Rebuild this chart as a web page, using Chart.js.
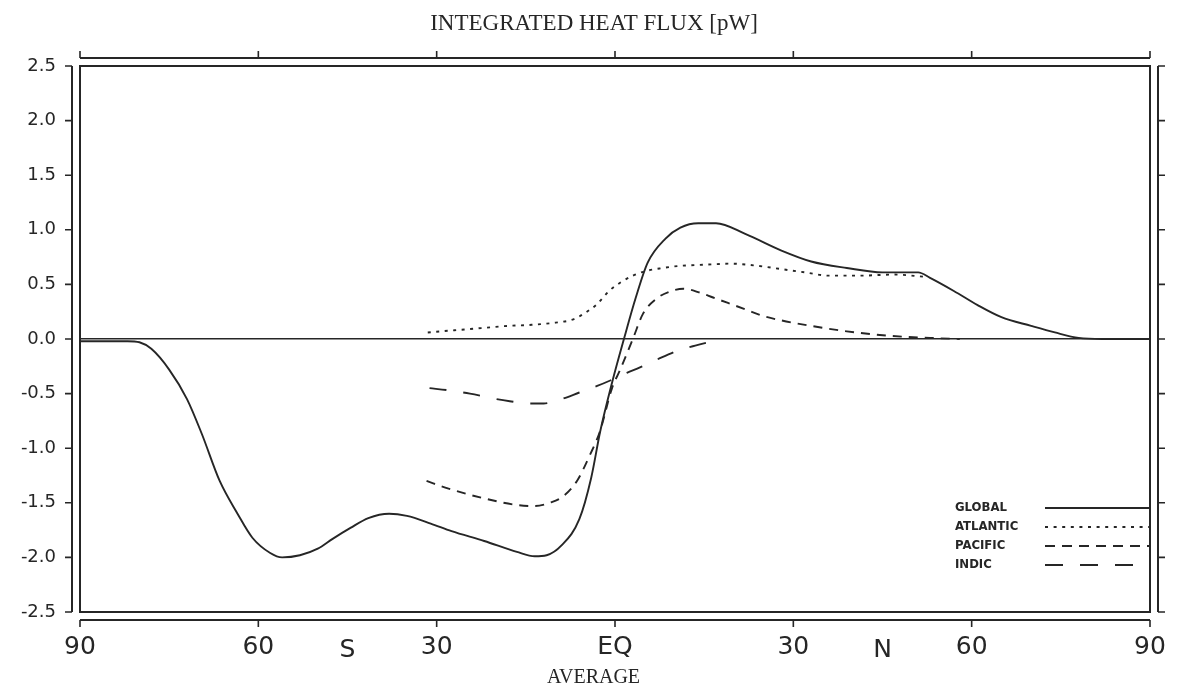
<!DOCTYPE html>
<html><head><meta charset="utf-8">
<script src="https://cdn.jsdelivr.net/npm/chart.js@4.4.1/dist/chart.umd.min.js"></script>
<style>html,body{margin:0;padding:0;background:#fff;}#wrap{width:1188px;height:698px;}</style>
</head><body><div id="wrap"><canvas id="c" width="1188" height="698"></canvas></div>
<script>
// ---- data ----
const xTicks = [-90, -60, -30, 0, 30, 60, 90];
const xTickLabels = ['90', '60', '30', 'EQ', '30', '60', '90'];
const hemiLat = [-45, 45];
const hemiLabels = ['S', 'N'];
const titleText = 'INTEGRATED HEAT FLUX [pW]';
const xTitle = 'AVERAGE';
const seriesNames = ['GLOBAL', 'ATLANTIC', 'PACIFIC', 'INDIC'];

const globalLat = [-90,-85,-82,-80,-78,-75,-72,-69.5,-66.5,-63.5,-61,-58,-56,-53,-50,-47.5,-44.5,-41.5,-38,-35,-31,-27.5,-22,-16.5,-13.5,-11.5,-9,-6,-4,-2.5,-0.5,1.5,3.5,5.5,8.5,11,14,17,22,28,33,39,45,51,53,57,61,65,70,74,78,82,90];
const globalVal = [-0.02,-0.02,-0.02,-0.03,-0.09,-0.28,-0.55,-0.87,-1.30,-1.60,-1.82,-1.96,-2.0,-1.98,-1.92,-1.83,-1.73,-1.64,-1.60,-1.62,-1.69,-1.76,-1.85,-1.95,-1.99,-1.98,-1.89,-1.65,-1.27,-0.85,-0.40,0.0,0.38,0.70,0.92,1.02,1.06,1.06,0.96,0.81,0.71,0.65,0.61,0.61,0.56,0.44,0.31,0.20,0.12,0.06,0.01,0.0,0.0];

const atlanticLat = [-31.5,-27,-22.5,-18,-14,-10,-7,-5,-3,-1,1,3,5,8,11,15,19.5,24,28,32,36,41,47,52];
const atlanticVal = [0.06,0.08,0.10,0.12,0.13,0.15,0.18,0.24,0.32,0.44,0.52,0.58,0.62,0.65,0.67,0.68,0.69,0.67,0.64,0.61,0.58,0.58,0.59,0.57];

const pacificLat = [-31.7,-28,-22,-16.5,-13.5,-11,-8.7,-6.4,-4.2,-2.5,-0.5,0.8,3,4.7,7,9,11.5,14,16.5,19,22,25,28,33,39,46,53,58];
const pacificVal = [-1.30,-1.37,-1.46,-1.52,-1.53,-1.50,-1.44,-1.30,-1.06,-0.84,-0.45,-0.29,0.0,0.23,0.37,0.43,0.46,0.43,0.38,0.33,0.27,0.21,0.17,0.12,0.07,0.03,0.01,0.0];

const indicLat = [-31.2,-28,-24.4,-20,-17.7,-14.5,-12,-9,-6,-3,-0.8,2,4.2,7,10.4,13.5,16.5,18];
const indicVal = [-0.45,-0.47,-0.50,-0.55,-0.57,-0.59,-0.59,-0.55,-0.49,-0.43,-0.38,-0.31,-0.26,-0.19,-0.11,-0.06,-0.02,0.0];

// ---- styles ----
const ink = '#262626';
const serif = '"Liberation Serif", "DejaVu Serif"';
const pts = (xs, ys) => xs.map((x, i) => ({x, y: ys[i]}));
const dashes = [[], [3, 5.5], [9, 7], [17, 17]];
const legendDashes = [[], [3, 5.6], [10, 7], [18, 17]];

const decor = {
  id: 'decor',
  afterDraw(chart) {
    const {ctx, chartArea: a, scales} = chart;
    const xs = scales.x, ys = scales.y;
    ctx.save();
    ctx.strokeStyle = ink;
    ctx.lineWidth = 2;
    ctx.lineCap = 'butt';
    ctx.strokeRect(a.left, a.top, a.right - a.left, a.bottom - a.top);
    const gap = 8, tl = 7;
    const yTop = ys.getPixelForValue(2.5), yBot = ys.getPixelForValue(-2.5);
    const xL = xs.getPixelForValue(-90), xR = xs.getPixelForValue(90);
    ctx.beginPath();
    ctx.moveTo(a.left - gap, yTop); ctx.lineTo(a.left - gap, yBot);
    ctx.moveTo(a.right + gap, yTop); ctx.lineTo(a.right + gap, yBot);
    ctx.moveTo(xL, a.top - gap); ctx.lineTo(xR, a.top - gap);
    ctx.moveTo(xL, a.bottom + gap); ctx.lineTo(xR, a.bottom + gap);
    ctx.stroke();
    ctx.lineWidth = 1.6;
    ctx.beginPath();
    ys.ticks.forEach(t => {
      const py = ys.getPixelForValue(t.value);
      ctx.moveTo(a.left - gap, py); ctx.lineTo(a.left - gap - tl, py);
      ctx.moveTo(a.right + gap, py); ctx.lineTo(a.right + gap + tl, py);
    });
    xTicks.forEach(v => {
      const px = xs.getPixelForValue(v);
      ctx.moveTo(px, a.top - gap); ctx.lineTo(px, a.top - gap - tl);
      ctx.moveTo(px, a.bottom + gap); ctx.lineTo(px, a.bottom + gap + tl);
    });
    ctx.stroke();
    ctx.fillStyle = ink;
    ctx.textAlign = 'center';
    ctx.textBaseline = 'middle';
    // hemisphere letters
    ctx.font = '25px "DejaVu Sans"';
    hemiLat.forEach((v, i) => ctx.fillText(hemiLabels[i], xs.getPixelForValue(v), a.bottom + 38));
    // x axis title
    ctx.font = '20px ' + serif;
    ctx.fillText(xTitle, xs.getPixelForValue(-3.6), a.bottom + 66);
    // legend
    ctx.font = 'bold 13px "DejaVu Sans Condensed", "Liberation Sans"';
    ctx.textAlign = 'left';
    chart.data.datasets.forEach((ds, i) => {
      const py = a.bottom - 104 + i * 19;
      ctx.fillText(ds.label, a.right - 195, py);
      ctx.save();
      ctx.lineWidth = ds.borderWidth;
      ctx.setLineDash(legendDashes[i]);
      ctx.beginPath();
      ctx.moveTo(a.right - 105, py); ctx.lineTo(a.right - 1, py);
      ctx.stroke();
      ctx.restore();
    });
    ctx.restore();
  }
};

const mk = (label, xsArr, ysArr, i) => ({
  label, data: pts(xsArr, ysArr), borderColor: ink, borderWidth: 1.9,
  borderDash: dashes[i], pointRadius: 0, fill: false,
  cubicInterpolationMode: 'monotone', borderCapStyle: 'butt'
});

new Chart(document.getElementById('c'), {
  type: 'line',
  data: {datasets: [
    mk(seriesNames[0], globalLat, globalVal, 0),
    mk(seriesNames[1], atlanticLat, atlanticVal, 1),
    mk(seriesNames[2], pacificLat, pacificVal, 2),
    mk(seriesNames[3], indicLat, indicVal, 3)
  ]},
  options: {
    responsive: false, animation: false, devicePixelRatio: 1,
    layout: {padding: 0},
    plugins: {
      legend: {display: false},
      tooltip: {enabled: false},
      title: {display: true, text: titleText, color: ink,
        font: {family: serif, size: 23, weight: 'normal', lineHeight: 1.2},
        padding: {top: 10, bottom: 0}}
    },
    scales: {
      x: {
        type: 'linear', position: 'bottom', min: -90, max: 90,
        afterBuildTicks: s => { s.ticks = xTicks.map(v => ({value: v})); },
        afterFit: s => { s.height = 86; },
        grid: {display: false}, border: {display: false},
        ticks: {color: ink, font: {family: '"DejaVu Sans"', size: 25}, padding: 12, maxRotation: 0, autoSkip: false,
          callback: v => xTickLabels[xTicks.indexOf(v)]}
      },
      x2: {
        type: 'linear', position: 'top', min: -90, max: 90,
        afterFit: s => { s.height = 66 - 37.6; },
        grid: {display: false}, border: {display: false}, ticks: {display: false}
      },
      y: {
        type: 'linear', position: 'left', min: -2.5, max: 2.5,
        afterFit: s => { s.width = 80; },
        ticks: {stepSize: 0.5, color: ink, font: {family: '"DejaVu Sans"', size: 18}, padding: 24,
          callback: v => v.toFixed(1)},
        grid: {drawTicks: false, lineWidth: 1.5,
          color: c => (c.tick && c.tick.value === 0) ? ink : 'rgba(0,0,0,0)'},
        border: {display: false}
      },
      y2: {
        type: 'linear', position: 'right', min: -2.5, max: 2.5,
        afterFit: s => { s.width = 38; },
        grid: {display: false}, border: {display: false}, ticks: {display: false}
      }
    }
  },
  plugins: [decor]
});
</script>
</body></html>
